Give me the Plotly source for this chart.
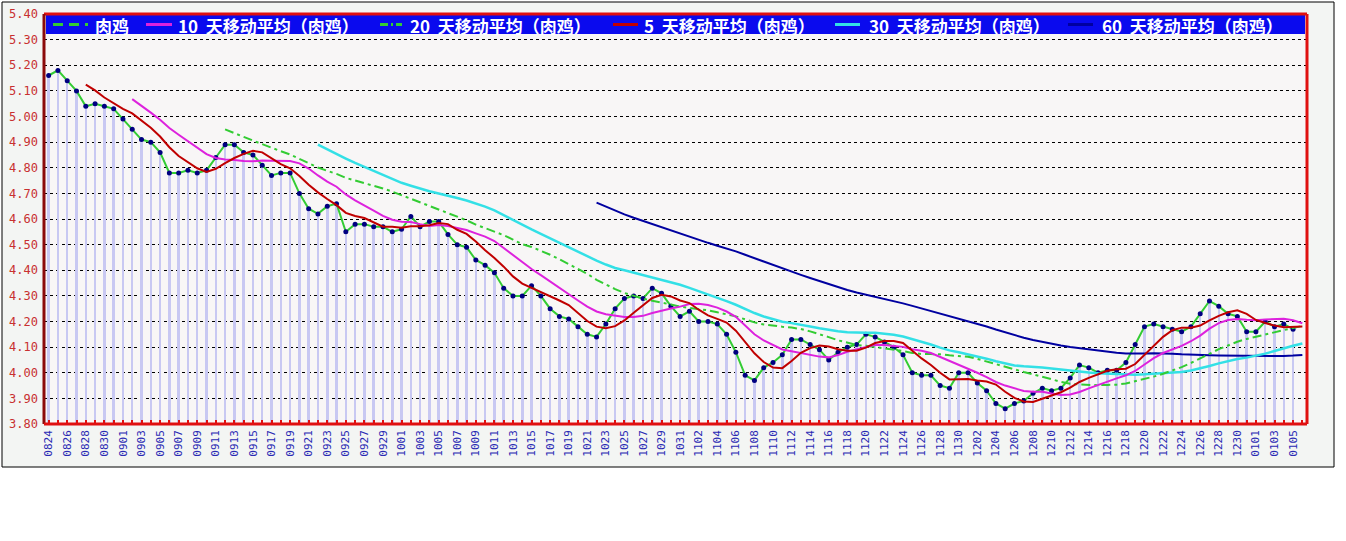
import plotly.graph_objects as go
import pandas as pd

# ---- data (daily broiler price, 0824 .. 0106) ----
price = [
    5.16, 5.18, 5.14, 5.10, 5.04, 5.05, 5.04, 5.03, 4.99, 4.95,
    4.91, 4.90, 4.86, 4.78, 4.78, 4.79, 4.78, 4.79, 4.84, 4.89,
    4.89, 4.86, 4.85, 4.81, 4.77, 4.78, 4.78, 4.70, 4.64, 4.62,
    4.65, 4.66, 4.55, 4.58, 4.58, 4.57, 4.57, 4.55, 4.56, 4.61,
    4.57, 4.59, 4.59, 4.54, 4.50, 4.49, 4.44, 4.42, 4.39, 4.33,
    4.30, 4.30, 4.34, 4.30, 4.25, 4.22, 4.21, 4.18, 4.15, 4.14,
    4.19, 4.25, 4.29, 4.30, 4.29, 4.33, 4.31, 4.26, 4.22, 4.24,
    4.20, 4.20, 4.19, 4.15, 4.08, 3.99, 3.97, 4.02, 4.04, 4.07,
    4.13, 4.13, 4.11, 4.09, 4.05, 4.08, 4.10, 4.11, 4.15, 4.14,
    4.12, 4.10, 4.07, 4.00, 3.99, 3.99, 3.95, 3.94, 4.00, 4.00,
    3.96, 3.93, 3.88, 3.86, 3.88, 3.89, 3.92, 3.94, 3.93, 3.94,
    3.98, 4.03, 4.02, 4.00, 4.01, 4.01, 4.04, 4.11, 4.18, 4.19,
    4.18, 4.17, 4.16, 4.18, 4.23, 4.28, 4.26, 4.23, 4.22, 4.16,
    4.16, 4.20, 4.18, 4.19, 4.17, 4.16,
]
# category labels (one per calendar day)
dates = pd.date_range("2012-08-24", periods=len(price)).strftime("%m%d").tolist()
shown = len(price) - 1          # raw series / bars are drawn through 0105
legend_names = ["肉鸡", "10\u00a0 天移动平均（肉鸡）", "20\u00a0 天移动平均（肉鸡）",
                "5\u00a0 天移动平均（肉鸡）", "30\u00a0 天移动平均（肉鸡）", "60\u00a0 天移动平均（肉鸡）"]
y_ticks = [round(3.8 + 0.1 * k, 2) for k in range(17)]

# ---- styles ----
GREEN = "#33cc33"
MAG = "#dd22dd"
RED = "#c00000"
CYAN = "#33e0e6"
NAVY = "#0000a0"
ma_style = {
    5: dict(color=RED, width=2),
    10: dict(color=MAG, width=2),
    20: dict(color=GREEN, width=2, dash="9px,4px,3px,4px"),
    30: dict(color=CYAN, width=2.5),
    60: dict(color=NAVY, width=2),
}

s = pd.Series(price)
fig = go.Figure()

# drop bars
fig.add_trace(go.Bar(x=dates[:shown], y=price[:shown], width=0.27,
                     marker=dict(color="#c8c8f2", line=dict(width=0)),
                     showlegend=False, hoverinfo="skip"))
# raw series
fig.add_trace(go.Scatter(x=dates[:shown], y=price[:shown], mode="lines+markers",
                         line=dict(color=GREEN, width=2),
                         marker=dict(color="#000080", size=5),
                         name=legend_names[0], showlegend=False))
# moving averages (computed from the series, as in the original chart)
for w in [60, 30, 20, 10, 5]:
    ma = s.rolling(w).mean()
    fig.add_trace(go.Scatter(x=dates, y=ma, mode="lines", line=ma_style[w],
                             name=f"{w}", showlegend=False, connectgaps=False))

# ---- geometry helpers (pixel -> paper) ----
W, H = 1346, 541
L, R, T, B = 44, 1307, 14, 424


def px(x):
    return (x - L) / (R - L)


def py(y):
    return (B - y) / (B - T)


shapes = [
    dict(type="rect", xref="paper", yref="paper", x0=px(2), x1=px(1334), y0=py(467), y1=py(2),
         fillcolor="#f3f5f3", line=dict(color="black", width=1), layer="below"),
    dict(type="rect", xref="paper", yref="paper", x0=0, x1=1, y0=0, y1=1,
         fillcolor="#f8f6f6", line=dict(width=0), layer="below"),
    # legend band
    dict(type="rect", xref="paper", yref="paper", x0=px(46), x1=px(1305), y0=py(34), y1=py(15),
         fillcolor="#0a0aee", line=dict(width=0), layer="above"),
    # borders
    dict(type="line", xref="paper", yref="paper", x0=0, x1=1, y0=1, y1=1,
         line=dict(color="#e01010", width=3), layer="above"),
    dict(type="line", xref="paper", yref="paper", x0=1, x1=1, y0=0, y1=1,
         line=dict(color="#e01010", width=3), layer="above"),
    dict(type="line", xref="paper", yref="paper", x0=0, x1=0, y0=0, y1=1,
         line=dict(color="#8b0a0a", width=3), layer="above"),
    dict(type="line", xref="paper", yref="paper", x0=0, x1=1, y0=0, y1=0,
         line=dict(color="#e01010", width=3), layer="above"),
]

# legend (drawn into the blue band)
leg_lines = [
    (53, 88, dict(color=GREEN, width=3, dash="10px,6px")),
    (146, 172, dict(color=MAG, width=3)),
    (380, 402, dict(color=GREEN, width=3, dash="8px,3px,2px,3px")),
    (613, 638, dict(color=RED, width=3)),
    (835, 860, dict(color=CYAN, width=3)),
    (1068, 1093, dict(color=NAVY, width=3)),
]
leg_text_x = [93, 176, 408, 642, 867, 1100]
ly = 24.5
for x0, x1, st in leg_lines:
    shapes.append(dict(type="line", xref="paper", yref="paper", x0=px(x0), x1=px(x1),
                       y0=py(ly), y1=py(ly), line=st, layer="above"))
annotations = []
for tx, name in zip(leg_text_x, legend_names):
    annotations.append(dict(xref="paper", yref="paper", x=px(tx), y=py(ly + 0.5), xanchor="left",
                            yanchor="middle", showarrow=False, text=f"<b>{name}</b>",
                            font=dict(family="Noto Sans CJK SC", size=17, color="white")))

tick_text = [d if i % 2 == 0 else "" for i, d in enumerate(dates)]

fig.update_layout(
    width=W, height=H,
    margin=dict(l=L, r=W - R, t=T, b=H - B, autoexpand=False),
    paper_bgcolor="white",
    plot_bgcolor="rgba(0,0,0,0)",
    shapes=shapes,
    annotations=annotations,
    bargap=0,
    showlegend=False,
    hovermode=False,
    xaxis=dict(type="category", range=[-0.5, len(price) - 0.5], automargin=False,
               tickmode="array", tickvals=dates, ticktext=tick_text,
               tickangle=-90, ticks="inside", ticklen=4, tickwidth=2, tickcolor="#e01010",
               tickfont=dict(family="DejaVu Sans Mono", size=11, color="#2a2ab4"),
               showgrid=False, showline=False, zeroline=False, ticklabelstandoff=3),
    yaxis=dict(range=[3.8, 5.4], tickmode="array", tickvals=y_ticks, automargin=False,
               ticktext=[f"{v:.2f}" for v in y_ticks],
               tickfont=dict(family="DejaVu Sans Mono", size=12, color="#c83030"),
               showgrid=True, gridcolor="black", gridwidth=1, griddash="3px,3px",
               zeroline=False, showline=False, ticks="", ticklabelstandoff=5),
)

fig.write_html("out.html", config={"displayModeBar": False},
               post_script="document.body.style.margin='0';document.body.style.overflow='hidden';")
